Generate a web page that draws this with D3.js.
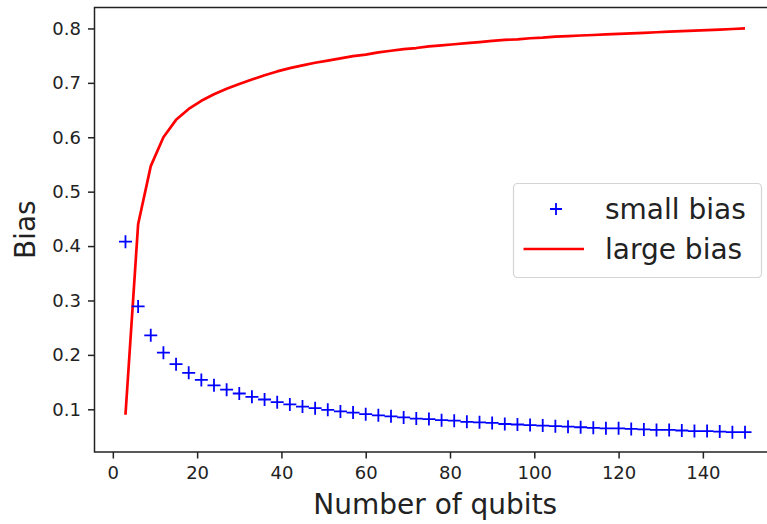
<!DOCTYPE html>
<html>
<head>
<meta charset="utf-8">
<script src="https://cdn.jsdelivr.net/npm/d3@7"></script>
<style>
  body { margin: 0; background: #fff; }
  svg { display: block; font-family: "DejaVu Sans", sans-serif; }
</style>
</head>
<body>
<div id="chart"></div>
<script>
// Number of qubits (x values)
const qubits = [3, 6, 9, 12, 15, 18, 21, 24, 27, 30, 33, 36, 39, 42, 45, 48, 51, 54, 57, 60,
    63, 66, 69, 72, 75, 78, 81, 84, 87, 90, 93, 96, 99, 102, 105, 108, 111, 114, 117, 120,
    123, 126, 129, 132, 135, 138, 141, 144, 147, 150];
// small bias (plus markers)
const smallBias = [0.408, 0.289, 0.236, 0.204, 0.183, 0.167, 0.154, 0.144, 0.136, 0.129,
    0.123, 0.118, 0.113, 0.109, 0.105, 0.102, 0.099, 0.096, 0.094, 0.091,
    0.089, 0.087, 0.085, 0.083, 0.082, 0.080, 0.079, 0.077, 0.076, 0.075,
    0.073, 0.072, 0.071, 0.070, 0.069, 0.068, 0.067, 0.066, 0.065, 0.065,
    0.064, 0.063, 0.062, 0.062, 0.061, 0.060, 0.060, 0.059, 0.058, 0.058];
// large bias (red line)
const largeBias = [0.090, 0.440, 0.547, 0.600, 0.632, 0.652, 0.667, 0.679, 0.689, 0.698,
    0.706, 0.714, 0.721, 0.727, 0.732, 0.737, 0.741, 0.745, 0.749, 0.752,
    0.756, 0.759, 0.762, 0.764, 0.767, 0.769, 0.771, 0.773, 0.775, 0.777,
    0.779, 0.780, 0.782, 0.783, 0.785, 0.786, 0.787, 0.788, 0.789, 0.790,
    0.791, 0.792, 0.793, 0.794, 0.795, 0.796, 0.797, 0.798, 0.799, 0.800];
const xTicks = [0, 20, 40, 60, 80, 100, 120, 140];
const yTicks = [0.1, 0.2, 0.3, 0.4, 0.5, 0.6, 0.7, 0.8];
const seriesNames = ["small bias", "large bias"];

const width = 767, height = 524;
// plot area (right edge runs past the picture, as in the reference)
const plotLeft = 94.5, plotTop = 7.5, plotRight = 776, plotBottom = 452;

const svg = d3.select("#chart").append("svg")
    .attr("width", width)
    .attr("height", height);

const x = d3.scaleLinear().domain([-4.35, 157.35]).range([plotLeft, plotRight]);
const y = d3.scaleLinear().domain([0.0215, 0.8385]).range([plotBottom, plotTop]);

// red line for large bias
const line = d3.line()
    .x((d, i) => x(qubits[i]))
    .y(d => y(d));
svg.append("path")
    .datum(largeBias)
    .attr("d", line)
    .attr("fill", "none")
    .attr("stroke", "#ff0000")
    .attr("stroke-width", 2.7)
    .attr("stroke-linejoin", "round");

// plus markers for small bias
const half = 6.5;
svg.append("g")
    .selectAll("path")
    .data(smallBias)
    .enter()
    .append("path")
        .attr("d", (d, i) => {
            const cx = x(qubits[i]), cy = y(d);
            return `M${cx - half},${cy}H${cx + half}M${cx},${cy - half}V${cy + half}`;
        })
        .attr("stroke", "#0000ff")
        .attr("stroke-width", 1.8)
        .attr("fill", "none");

// axes
const xAxis = svg.append("g")
    .attr("transform", `translate(0,${plotBottom})`)
    .call(d3.axisBottom(x).tickValues(xTicks).tickSize(6.5).tickPadding(8).tickFormat(d3.format("d")));
const yAxis = svg.append("g")
    .attr("transform", `translate(${plotLeft},0)`)
    .call(d3.axisLeft(y).tickValues(yTicks).tickSize(6.5).tickPadding(7).tickFormat(d3.format(".1f")));
[xAxis, yAxis].forEach(a => {
    a.select(".domain").remove();
    a.selectAll(".tick line").attr("stroke", "#222").attr("stroke-width", 1.5);
    a.selectAll(".tick text").attr("fill", "#222").style("font-size", "18px")
        .style("font-family", "DejaVu Sans, sans-serif");
});

// frame
svg.append("rect")
    .attr("x", plotLeft).attr("y", plotTop)
    .attr("width", plotRight - plotLeft).attr("height", plotBottom - plotTop)
    .attr("fill", "none")
    .attr("stroke", "#222")
    .attr("stroke-width", 1.5);

// axis labels
svg.append("text")
    .attr("x", (plotLeft + plotRight) / 2)
    .attr("y", 514)
    .attr("text-anchor", "middle")
    .attr("fill", "#222")
    .style("font-size", "28px")
    .text("Number of qubits");
svg.append("text")
    .attr("transform", `translate(35,${(plotTop + plotBottom) / 2}) rotate(-90)`)
    .attr("text-anchor", "middle")
    .attr("fill", "#222")
    .style("font-size", "28px")
    .text("Bias");

// legend
const legend = svg.append("g");
legend.append("rect")
    .attr("x", 513.5).attr("y", 183.5)
    .attr("width", 248).attr("height", 94)
    .attr("rx", 4)
    .attr("fill", "#fff")
    .attr("fill-opacity", 0.8)
    .attr("stroke", "#d4d4d4")
    .attr("stroke-width", 1.2);
legend.append("path")
    .attr("d", `M${556 - 6},209H${556 + 6}M556,${209 - 6}V${209 + 6}`)
    .attr("stroke", "#0000ff")
    .attr("stroke-width", 1.8);
legend.append("line")
    .attr("x1", 523.5).attr("x2", 584)
    .attr("y1", 249).attr("y2", 249)
    .attr("stroke", "#ff0000")
    .attr("stroke-width", 2.7);
legend.selectAll("text.lbl")
    .data(seriesNames)
    .enter()
    .append("text")
    .attr("class", "lbl")
    .attr("x", 605)
    .attr("y", (d, i) => 209 + i * 40)
    .attr("dominant-baseline", "central")
    .attr("fill", "#222")
    .style("font-size", "28px")
    .text(d => d);
</script>
</body>
</html>
